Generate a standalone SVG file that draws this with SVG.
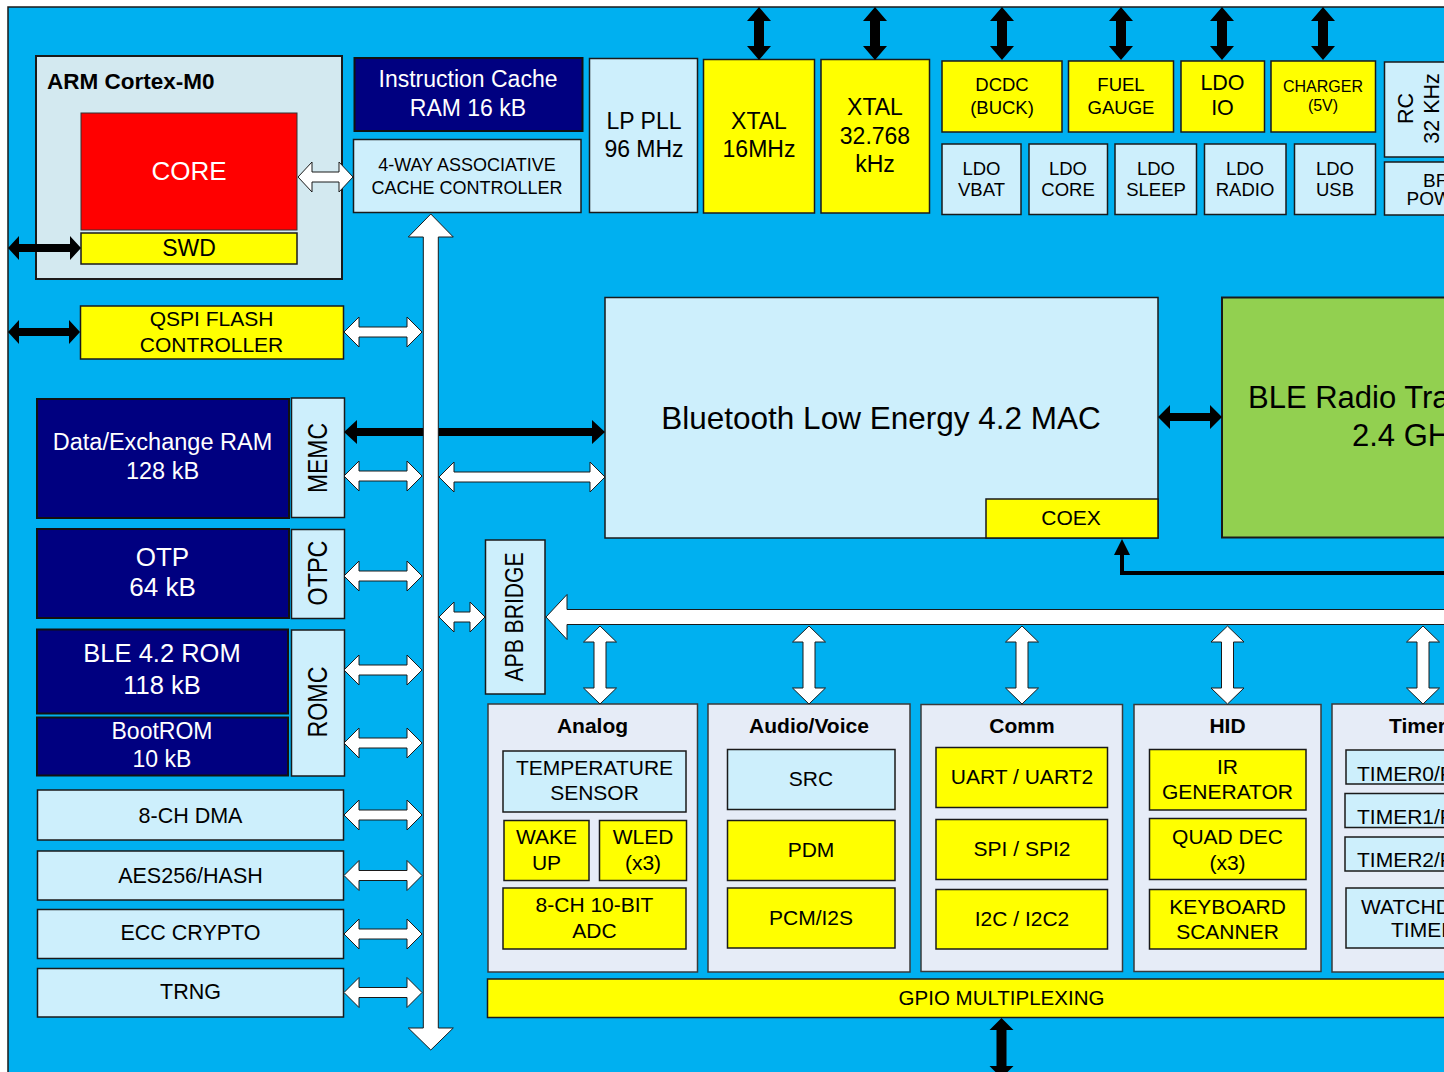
<svg xmlns="http://www.w3.org/2000/svg" xmlns:xlink="http://www.w3.org/1999/xlink" width="1444" height="1072" viewBox="0 0 1444 1072">
<style>
text{font-family:"Liberation Sans",Arial,sans-serif;fill:#000}
.m{text-anchor:middle}
.w{fill:#fff}
.b{font-weight:bold}
.lc{fill:#CDEFFC;stroke:#1a1a1a;stroke-width:1.5}
.yl{fill:#FFFF00;stroke:#1a1a1a;stroke-width:1.5}
.nv{fill:#000080;stroke:#111;stroke-width:2}
.grp{fill:#E6ECF7;stroke:#3a3a3a;stroke-width:1.5}
.wa{fill:#fff;stroke:#1a1a1a;stroke-width:1}
.ba{fill:#000}
.s18{font-size:18.5px}
.s21{font-size:21px}
.s23{font-size:23px}
.s26{font-size:26px}
</style>
<defs>
<polygon id="wh" class="wa" points="344,0 359,-15 359,-5 407,-5 407,-15 422,0 407,15 407,5 359,5 359,15"/>
<polygon id="wv" class="wa" points="0,626 16.5,642 6,642 6,688 16.5,688 0,704 -16.5,688 -6,688 -6,642 -16.5,642"/>
<polygon id="bv" class="ba" points="0,7 12,21 5,21 5,46 12,46 0,60 -12,46 -5,46 -5,21 -12,21"/>
</defs>
<rect x="0" y="0" width="1444" height="1072" fill="#fff"/>
<rect x="8" y="7" width="1460" height="1090" fill="#00B0F0" stroke="#1a1a1a" stroke-width="1.5"/>

<g id="nodes">
<g id="arm"><rect x="36" y="56" width="306" height="223" fill="#D3E9F0" stroke="#1a1a1a" stroke-width="2"/><text x="47" y="89" class="b" font-size="22.5">ARM Cortex-M0</text></g>
<g id="core"><rect x="81" y="113" width="216" height="117" fill="#FF0000" stroke="#333" stroke-width="1"/><text x="189" y="180" class="m w s26">CORE</text></g>
<g id="swd"><rect class="yl" x="81" y="233" width="216" height="31"/><text x="189" y="256" class="m s23">SWD</text></g>
<g id="icache"><rect class="nv" x="354.5" y="58" width="228" height="73"/><text x="468" y="87" class="m w s23">Instruction Cache</text><text x="468" y="116" class="m w s23">RAM 16 kB</text></g>
<g id="cachectrl"><rect class="lc" x="353.5" y="139.5" width="227.5" height="73"/><text x="467" y="171" class="m" font-size="18">4-WAY ASSOCIATIVE</text><text x="467" y="194" class="m" font-size="18">CACHE CONTROLLER</text></g>
<g id="lppll"><rect class="lc" x="589.5" y="58.5" width="108" height="154"/><text x="644" y="129" class="m s23">LP PLL</text><text x="644" y="157" class="m s23">96 MHz</text></g>
<g id="xtal16"><rect class="yl" x="703.5" y="59.5" width="111" height="153.5"/><text x="759" y="129" class="m s23">XTAL</text><text x="759" y="157" class="m s23">16MHz</text></g>
<g id="xtal32"><rect class="yl" x="821" y="59.5" width="108.5" height="153.5"/><text x="875" y="115" class="m s23">XTAL</text><text x="875" y="143.5" class="m s23">32.768</text><text x="875" y="171.5" class="m s23">kHz</text></g>
<g id="dcdc"><rect class="yl" x="942" y="61" width="120" height="71"/><text x="1002" y="91" class="m s18">DCDC</text><text x="1002" y="113.5" class="m s18">(BUCK)</text></g>
<g id="fuel"><rect class="yl" x="1068.5" y="61" width="105" height="71"/><text x="1121" y="91" class="m s18">FUEL</text><text x="1121" y="113.5" class="m s18">GAUGE</text></g>
<g id="ldoio"><rect class="yl" x="1181" y="61" width="83.5" height="71"/><text x="1222.5" y="90" class="m" font-size="21.5">LDO</text><text x="1222.5" y="115" class="m" font-size="21.5">IO</text></g>
<g id="charger"><rect class="yl" x="1271" y="61" width="104.5" height="71"/><text x="1323" y="91.5" class="m" font-size="16">CHARGER</text><text x="1323" y="111" class="m" font-size="16">(5V)</text></g>
<g id="ldovbat"><rect class="lc" x="942" y="144" width="79" height="70.5"/><text x="981.5" y="175" class="m s18">LDO</text><text x="981.5" y="196" class="m s18">VBAT</text></g>
<g id="ldocore"><rect class="lc" x="1029" y="144" width="78.5" height="70.5"/><text x="1068" y="175" class="m s18">LDO</text><text x="1068" y="196" class="m s18">CORE</text></g>
<g id="ldosleep"><rect class="lc" x="1115" y="144" width="81.5" height="70.5"/><text x="1156" y="175" class="m s18">LDO</text><text x="1156" y="196" class="m s18">SLEEP</text></g>
<g id="ldoradio"><rect class="lc" x="1204.5" y="144" width="81.5" height="70.5"/><text x="1245" y="175" class="m s18">LDO</text><text x="1245" y="196" class="m s18">RADIO</text></g>
<g id="ldousb"><rect class="lc" x="1294.5" y="144" width="81" height="70.5"/><text x="1335" y="175" class="m s18">LDO</text><text x="1335" y="196" class="m s18">USB</text></g>
<g id="rc32"><rect class="lc" x="1384.5" y="62" width="80" height="95" stroke-width="2"/><text transform="translate(1413,108.5) rotate(-90)" class="m" font-size="21.5">RC</text><text transform="translate(1439,108.5) rotate(-90)" class="m" font-size="21.5">32 KHz</text></g>
<g id="bfpow"><rect class="lc" x="1384.5" y="162" width="80" height="53" stroke-width="2"/><text x="1423" y="187" font-size="19">BF</text><text x="1406.5" y="205" font-size="19">POW</text></g>
<g id="qspi"><rect class="yl" x="80.5" y="306" width="263" height="53"/><text x="211.5" y="326" class="m s21">QSPI FLASH</text><text x="211.5" y="352" class="m s21">CONTROLLER</text></g>
<g id="dataram"><rect class="nv" x="37" y="399" width="252" height="119"/><text x="162.5" y="450" class="m w" font-size="23.5">Data/Exchange RAM</text><text x="162.5" y="479" class="m w" font-size="23.5">128 kB</text></g>
<g id="memc"><rect class="lc" x="291.5" y="398" width="53" height="119.5"/><text transform="translate(327,458) rotate(-90)" class="m" font-size="28" textLength="70" lengthAdjust="spacingAndGlyphs">MEMC</text></g>
<g id="otp"><rect class="nv" x="37" y="529" width="252" height="89"/><text x="162.5" y="566" class="m w s26">OTP</text><text x="162.5" y="596" class="m w s26">64 kB</text></g>
<g id="otpc"><rect class="lc" x="291.5" y="529.5" width="53" height="89"/><text transform="translate(327,573) rotate(-90)" class="m" font-size="28" textLength="65" lengthAdjust="spacingAndGlyphs">OTPC</text></g>
<g id="blerom"><rect class="nv" x="37" y="629.5" width="251" height="84"/><text x="162" y="662" class="m w" font-size="25.5">BLE 4.2 ROM</text><text x="162" y="694" class="m w" font-size="25.5">118 kB</text></g>
<g id="bootrom"><rect class="nv" x="37" y="717.5" width="251" height="58"/><text x="162" y="738.5" class="m w s23">BootROM</text><text x="162" y="767" class="m w s23">10 kB</text></g>
<g id="romc"><rect class="lc" x="291.5" y="630" width="53" height="146"/><text transform="translate(327,702) rotate(-90)" class="m" font-size="28" textLength="71" lengthAdjust="spacingAndGlyphs">ROMC</text></g>
<g id="dma"><rect class="lc" x="37.5" y="790" width="306" height="50"/><text x="190.5" y="822.5" class="m" font-size="21.5">8-CH DMA</text></g>
<g id="aes"><rect class="lc" x="37.5" y="851" width="306" height="49"/><text x="190.5" y="882.5" class="m" font-size="21.5">AES256/HASH</text></g>
<g id="ecc"><rect class="lc" x="37.5" y="909.5" width="306" height="49"/><text x="190.5" y="940" class="m" font-size="21.5">ECC CRYPTO</text></g>
<g id="trng"><rect class="lc" x="37.5" y="968.5" width="306" height="48.5"/><text x="190.5" y="999" class="m" font-size="21.5">TRNG</text></g>
<g id="blemac"><rect class="lc" x="605" y="297.5" width="553" height="240.5" stroke-width="2"/><text x="881" y="428.5" class="m" font-size="31.5">Bluetooth Low Energy 4.2 MAC</text></g>
<g id="coex"><rect class="yl" x="986" y="499" width="172" height="39"/><text x="1071" y="524.5" class="m s21">COEX</text></g>
<g id="bleradio"><rect x="1222" y="297.5" width="260" height="240" fill="#92D050" stroke="#1a1a1a" stroke-width="2"/><text x="1248" y="408" font-size="31">BLE Radio Tra</text><text x="1352" y="446" font-size="31">2.4 GH</text></g>
<g id="apb"><rect class="lc" x="485.5" y="540" width="59.5" height="154"/><text transform="translate(523,617) rotate(-90)" class="m" font-size="25" textLength="129" lengthAdjust="spacingAndGlyphs">APB BRIDGE</text></g>
<g id="analog"><rect class="grp" x="488" y="704" width="209.5" height="268"/><text x="592.5" y="733" class="m b s21">Analog</text></g>
<g id="tempsensor"><rect class="lc" x="503" y="751" width="183" height="61"/><text x="594.5" y="775" class="m s21">TEMPERATURE</text><text x="594.5" y="800" class="m s21">SENSOR</text></g>
<g id="wakeup"><rect class="yl" x="504" y="820.5" width="85" height="60"/><text x="546.5" y="844" class="m s21">WAKE</text><text x="546.5" y="870" class="m s21">UP</text></g>
<g id="wled"><rect class="yl" x="599.5" y="820.5" width="87" height="60"/><text x="643" y="844" class="m s21">WLED</text><text x="643" y="870" class="m s21">(x3)</text></g>
<g id="adc"><rect class="yl" x="503" y="888" width="183" height="61"/><text x="594.5" y="912" class="m s21">8-CH 10-BIT</text><text x="594.5" y="938" class="m s21">ADC</text></g>
<g id="audio"><rect class="grp" x="708" y="704" width="202" height="268"/><text x="809" y="733" class="m b s21">Audio/Voice</text></g>
<g id="src"><rect class="lc" x="727.5" y="749.5" width="167.5" height="60"/><text x="811" y="786" class="m s21">SRC</text></g>
<g id="pdm"><rect class="yl" x="727.5" y="820.5" width="167.5" height="60"/><text x="811" y="857" class="m s21">PDM</text></g>
<g id="pcm"><rect class="yl" x="727.5" y="888" width="167.5" height="60"/><text x="811" y="924.5" class="m s21">PCM/I2S</text></g>
<g id="comm"><rect class="grp" x="921" y="704.5" width="201.5" height="267"/><text x="1022" y="733" class="m b s21">Comm</text></g>
<g id="uart"><rect class="yl" x="936" y="747.5" width="171.5" height="60"/><text x="1022" y="784" class="m s21">UART / UART2</text></g>
<g id="spi"><rect class="yl" x="936" y="819.5" width="171.5" height="60"/><text x="1022" y="856" class="m s21">SPI / SPI2</text></g>
<g id="i2c"><rect class="yl" x="936" y="889.5" width="171.5" height="59.5"/><text x="1022" y="926" class="m s21">I2C / I2C2</text></g>
<g id="hid"><rect class="grp" x="1134" y="704.5" width="187" height="267"/><text x="1227.5" y="733" class="m b s21">HID</text></g>
<g id="irgen"><rect class="yl" x="1149.5" y="749.5" width="156.5" height="60.5"/><text x="1227.5" y="774" class="m s21">IR</text><text x="1227.5" y="799" class="m s21">GENERATOR</text></g>
<g id="quaddec"><rect class="yl" x="1149.5" y="818.5" width="156.5" height="61"/><text x="1227.5" y="843.5" class="m s21">QUAD DEC</text><text x="1227.5" y="869.5" class="m s21">(x3)</text></g>
<g id="keyb"><rect class="yl" x="1149.5" y="889.5" width="156.5" height="59.5"/><text x="1227.5" y="913.5" class="m s21">KEYBOARD</text><text x="1227.5" y="939" class="m s21">SCANNER</text></g>
<g id="timers"><rect class="grp" x="1332" y="704" width="182" height="268"/><text x="1389" y="733" class="b s21">Timer</text></g>
<g id="timer0"><rect class="lc" x="1346" y="750" width="154" height="34"/><text x="1357" y="781" class="s21">TIMER0/P</text></g>
<g id="timer1"><rect class="lc" x="1345" y="793.5" width="154" height="34"/><text x="1357" y="823.5" class="s21">TIMER1/P</text></g>
<g id="timer2"><rect class="lc" x="1345" y="837" width="154" height="34"/><text x="1357" y="867" class="s21">TIMER2/P</text></g>
<g id="watchdog"><rect class="lc" x="1346" y="888" width="154" height="60"/><text x="1361" y="914" class="s21">WATCHD</text><text x="1391" y="937" class="s21">TIMER</text></g>
<g id="gpio"><rect class="yl" x="487.5" y="979" width="1000" height="38.5"/><text x="1001.5" y="1005" class="m" font-size="20.5">GPIO MULTIPLEXING</text></g>
</g>

<g id="connectors">
<polygon class="ba" points="8,248 19,236 19,244 70,244 70,236 81,248 70,260 70,252 19,252 19,260"/>
<polygon class="ba" points="8,332 19,320 19,328 69,328 69,320 80,332 69,344 69,336 19,336 19,344"/>
<polygon class="ba" points="344,432 357,420 357,428 592,428 592,420 605,432 592,444 592,436 357,436 357,444"/>
<polygon class="ba" points="1158,417 1170,405 1170,413 1210,413 1210,405 1222,417 1210,429 1210,421 1170,421 1170,429"/>
<use href="#bv" x="759"/>
<use href="#bv" x="875"/>
<use href="#bv" x="1002"/>
<use href="#bv" x="1121"/>
<use href="#bv" x="1222"/>
<use href="#bv" x="1323"/>
<polygon class="ba" points="1001.5,1018 1013.5,1030 1006.5,1030 1006.5,1066 1013.5,1066 1001.5,1078 989.5,1066 996.5,1066 996.5,1030 989.5,1030"/>
<polyline points="1450,573 1122,573 1122,552" fill="none" stroke="#000" stroke-width="4"/>
<polygon class="ba" points="1122,539 1130,555 1114,555"/>
<polygon class="wa" points="298,177 312,162 312,172 339,172 339,162 353,177 339,192 339,182 312,182 312,192"/>
<use href="#wh" y="332"/>
<use href="#wh" y="476"/>
<use href="#wh" y="576"/>
<use href="#wh" y="670"/>
<use href="#wh" y="743"/>
<use href="#wh" y="815"/>
<use href="#wh" y="875.5"/>
<use href="#wh" y="934"/>
<use href="#wh" y="992.5"/>
<polygon class="wa" points="439,477 454,462 454,472 590,472 590,462 605,477 590,492 590,482 454,482 454,492"/>
<polygon class="wa" points="439,617 454,602 454,612 470,612 470,602 485,617 470,632 470,622 454,622 454,632"/>
<polygon class="wa" points="430.8,214 453.3,237 438.3,237 438.3,1028 453.3,1028 430.8,1050 408.3,1028 423.3,1028 423.3,237 408.3,237"/>
<polygon class="wa" points="546,617 567,594.5 567,609.5 1460,609.5 1460,624.5 567,624.5 567,639.5"/>
<use href="#wv" x="600"/>
<use href="#wv" x="809"/>
<use href="#wv" x="1022"/>
<use href="#wv" x="1227.5"/>
<use href="#wv" x="1423"/>
</g>
</svg>
